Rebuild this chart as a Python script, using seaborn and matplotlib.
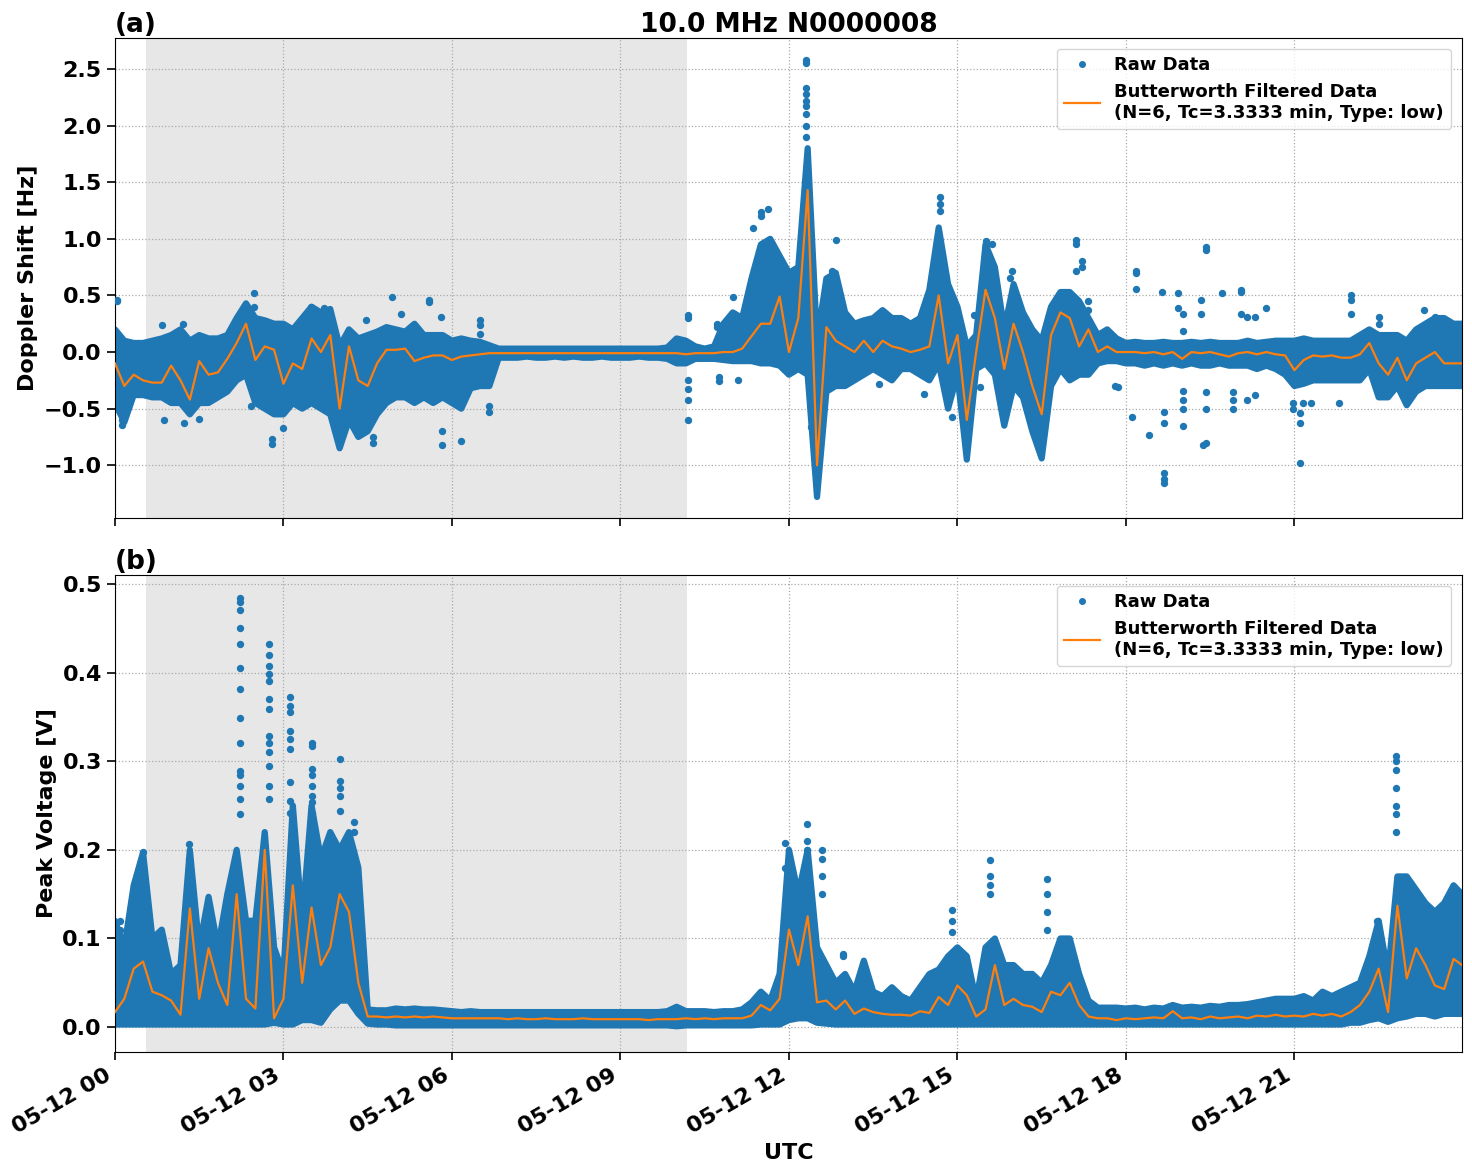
import numpy as np
import pandas as pd
import matplotlib
matplotlib.use("Agg")
import matplotlib.pyplot as plt
import matplotlib.dates as mdates
from matplotlib.lines import Line2D
import seaborn as sns

# ---------------- data ----------------
BASE = "2024-05-12 00:00"
sample_minutes = list(range(0, 1440, 10)) + [1439]

# Panel (a) Doppler shift [Hz]: filtered line, raw-data lower / upper envelope
doppler_filt = [
    -0.10, -0.30, -0.20, -0.25, -0.27, -0.27,
    -0.12, -0.25, -0.42, -0.08, -0.20, -0.18,
    -0.06, 0.08, 0.25, -0.07, 0.05, 0.02,
    -0.28, -0.10, -0.15, 0.12, 0.00, 0.15,
    -0.50, 0.05, -0.25, -0.30, -0.10, 0.02,
    0.02, 0.03, -0.08, -0.05, -0.03, -0.03,
    -0.07, -0.04, -0.03, -0.02, -0.01, -0.01,
    -0.01, -0.01, -0.01, -0.01, -0.01, -0.01,
    -0.01, -0.01, -0.01, -0.01, -0.01, -0.01,
    -0.01, -0.01, -0.01, -0.01, -0.01, -0.01,
    -0.01, -0.02, -0.01, -0.01, -0.01, 0.00,
    0.00, 0.03, 0.14, 0.25, 0.25, 0.49,
    0.00, 0.30, 1.43, -1.00, 0.22, 0.10,
    0.05, 0.00, 0.10, 0.00, 0.10, 0.05,
    0.03, 0.00, 0.02, 0.05, 0.50, -0.10,
    0.15, -0.60, 0.00, 0.55, 0.30, -0.15,
    0.25, 0.00, -0.30, -0.55, 0.15, 0.35,
    0.30, 0.05, 0.20, 0.00, 0.05, 0.00,
    0.00, 0.00, -0.01, 0.00, -0.02, 0.00,
    -0.06, 0.00, -0.01, 0.00, -0.02, -0.04,
    -0.01, 0.00, -0.02, 0.00, -0.02, -0.03,
    -0.16, -0.07, -0.03, -0.04, -0.03, -0.05,
    -0.05, -0.02, 0.08, -0.10, -0.20, -0.05,
    -0.25, -0.10, -0.05, 0.00, -0.10, -0.10, -0.10,
]
doppler_lo = [
    -0.45, -0.62, -0.38, -0.38, -0.40, -0.40,
    -0.45, -0.45, -0.55, -0.45, -0.45, -0.40,
    -0.35, -0.25, -0.20, -0.45, -0.50, -0.55,
    -0.55, -0.45, -0.50, -0.45, -0.50, -0.55,
    -0.85, -0.60, -0.75, -0.70, -0.55, -0.45,
    -0.40, -0.40, -0.45, -0.40, -0.45, -0.40,
    -0.45, -0.50, -0.32, -0.30, -0.30, -0.05,
    -0.05, -0.05, -0.04, -0.05, -0.05, -0.04,
    -0.05, -0.04, -0.05, -0.05, -0.04, -0.05,
    -0.05, -0.05, -0.04, -0.05, -0.05, -0.06,
    -0.10, -0.10, -0.06, -0.06, -0.06, -0.07,
    -0.08, -0.08, -0.08, -0.10, -0.10, -0.12,
    -0.20, -0.15, -0.20, -1.28, -0.35, -0.30,
    -0.30, -0.25, -0.20, -0.15, -0.20, -0.25,
    -0.15, -0.15, -0.20, -0.25, -0.10, -0.50,
    -0.20, -0.95, -0.15, -0.10, -0.20, -0.65,
    -0.30, -0.40, -0.70, -0.94, -0.30, -0.15,
    -0.25, -0.20, -0.20, -0.10, -0.08, -0.08,
    -0.10, -0.10, -0.12, -0.10, -0.12, -0.10,
    -0.12, -0.10, -0.12, -0.12, -0.10, -0.12,
    -0.12, -0.12, -0.15, -0.12, -0.15, -0.20,
    -0.30, -0.28, -0.25, -0.25, -0.25, -0.25,
    -0.25, -0.25, -0.15, -0.40, -0.40, -0.30,
    -0.47, -0.35, -0.30, -0.30, -0.30, -0.30, -0.30,
]
doppler_hi = [
    0.20, 0.10, 0.08, 0.08, 0.10, 0.12,
    0.15, 0.20, 0.10, 0.15, 0.12, 0.12,
    0.15, 0.30, 0.43, 0.30, 0.28, 0.25,
    0.25, 0.20, 0.30, 0.40, 0.35, 0.38,
    0.05, 0.20, 0.12, 0.15, 0.18, 0.22,
    0.20, 0.18, 0.25, 0.15, 0.15, 0.15,
    0.10, 0.12, 0.10, 0.09, 0.06, 0.03,
    0.03, 0.03, 0.03, 0.03, 0.03, 0.03,
    0.03, 0.03, 0.03, 0.03, 0.03, 0.03,
    0.03, 0.03, 0.03, 0.03, 0.03, 0.04,
    0.12, 0.10, 0.05, 0.03, 0.05, 0.25,
    0.35, 0.30, 0.65, 0.95, 1.00, 0.85,
    0.70, 0.75, 1.80, 0.10, 0.65, 0.70,
    0.35, 0.25, 0.28, 0.30, 0.37, 0.30,
    0.30, 0.25, 0.30, 0.55, 1.10, 0.60,
    0.40, 0.05, 0.15, 0.95, 0.75, 0.20,
    0.60, 0.35, 0.20, 0.10, 0.40, 0.53,
    0.53, 0.45, 0.30, 0.15, 0.20, 0.12,
    0.08, 0.09, 0.08, 0.08, 0.09, 0.08,
    0.08, 0.09, 0.08, 0.09, 0.08, 0.08,
    0.08, 0.10, 0.08, 0.09, 0.10, 0.10,
    0.10, 0.12, 0.10, 0.10, 0.10, 0.10,
    0.10, 0.15, 0.20, 0.15, 0.15, 0.15,
    0.10, 0.20, 0.25, 0.30, 0.30, 0.25, 0.25,
]
# isolated raw points (minute of day, value)
doppler_out_min = [
    2, 2, 7, 7, 50, 52, 73, 74, 90, 149, 149, 145, 168, 168, 180, 209, 223,
    268, 276, 276, 296, 306, 335, 335, 349, 349, 348, 370, 390, 390, 390, 400, 400,
    612, 612, 612, 612, 612, 612, 645, 645, 643, 643, 660, 666, 682, 690, 690, 698,
    738, 738, 738, 738, 738, 738, 738, 738, 738, 770, 766, 744, 783, 816, 864,
    881, 881, 881, 894, 918, 924, 930, 930, 937, 956, 958,
    1027, 1027, 1027, 1033, 1033, 1040, 1040, 1068, 1071, 1087, 1091, 1091, 1091,
    1105, 1118, 1121, 1121, 1121, 1121, 1121, 1136, 1136,
    1141, 1141, 1141, 1141, 1141, 1141, 1160, 1160, 1162, 1166, 1166, 1166, 1166, 1166,
    1183, 1194, 1194, 1194, 1203, 1203, 1203, 1209, 1209, 1218, 1218, 1230,
    1258, 1258, 1266, 1266, 1266, 1269, 1278, 1308, 1320, 1320, 1320, 1350, 1350,
    1398, 1410,
]
doppler_out_val = [
    0.46, 0.45, -0.64, -0.60, 0.24, -0.60, 0.25, -0.63, -0.59, 0.52, 0.40, -0.48, -0.81, -0.77, -0.67, 0.40, 0.39,
    0.28, -0.80, -0.75, 0.49, 0.34, 0.46, 0.44, -0.82, -0.70, 0.31, -0.79, 0.28, 0.24, 0.16, -0.53, -0.48,
    0.33, 0.30, -0.25, -0.33, -0.42, -0.60, -0.22, -0.26, 0.25, 0.22, 0.49, -0.25, 1.10, 1.24, 1.20, 1.26,
    2.58, 2.55, 2.33, 2.28, 2.22, 2.17, 2.10, 2.00, 1.90, 0.99, 0.72, -0.66, -0.25, -0.28, -0.37,
    1.37, 1.31, 1.25, -0.57, 0.33, -0.31, 0.98, 0.94, 0.95, 0.65, 0.72,
    0.99, 0.95, 0.72, 0.80, 0.75, 0.45, 0.37, -0.30, -0.31, -0.57, 0.72, 0.70, 0.56,
    -0.73, 0.53, -0.53, -0.63, -1.07, -1.12, -1.16, 0.52, 0.39,
    0.34, 0.19, -0.34, -0.42, -0.50, -0.65, 0.46, 0.34, -0.82, 0.93, 0.90, -0.35, -0.50, -0.80,
    0.52, -0.35, -0.42, -0.50, 0.55, 0.53, 0.34, -0.42, 0.31, -0.38, 0.31, 0.39,
    -0.45, -0.50, -0.54, -0.63, -0.98, -0.45, -0.45, -0.45, 0.50, 0.46, 0.34, 0.31, 0.25,
    0.37, 0.31,
]

# Panel (b) Peak voltage [V]
voltage_filt = [
    0.017, 0.032, 0.066, 0.074, 0.040, 0.036,
    0.030, 0.014, 0.134, 0.032, 0.089, 0.050,
    0.025, 0.150, 0.032, 0.021, 0.200, 0.010,
    0.032, 0.160, 0.050, 0.135, 0.070, 0.090,
    0.150, 0.130, 0.050, 0.012, 0.012, 0.011,
    0.012, 0.011, 0.012, 0.011, 0.012, 0.011,
    0.010, 0.010, 0.010, 0.010, 0.010, 0.010,
    0.009, 0.010, 0.009, 0.009, 0.010, 0.009,
    0.009, 0.009, 0.010, 0.009, 0.009, 0.009,
    0.009, 0.009, 0.009, 0.008, 0.009, 0.009,
    0.009, 0.010, 0.009, 0.010, 0.009, 0.010,
    0.010, 0.010, 0.013, 0.025, 0.019, 0.032,
    0.110, 0.070, 0.125, 0.028, 0.030, 0.020,
    0.030, 0.015, 0.021, 0.017, 0.015, 0.014,
    0.014, 0.013, 0.018, 0.016, 0.034, 0.025,
    0.047, 0.036, 0.012, 0.020, 0.070, 0.025,
    0.032, 0.025, 0.023, 0.017, 0.040, 0.036,
    0.050, 0.025, 0.012, 0.010, 0.010, 0.008,
    0.010, 0.009, 0.010, 0.011, 0.010, 0.018,
    0.010, 0.011, 0.009, 0.012, 0.010, 0.011,
    0.012, 0.010, 0.013, 0.012, 0.014, 0.012,
    0.013, 0.012, 0.015, 0.013, 0.015, 0.012,
    0.017, 0.025, 0.040, 0.066, 0.017, 0.137,
    0.055, 0.089, 0.070, 0.047, 0.043, 0.077, 0.070,
]
voltage_lo = [
    0.003, 0.003, 0.003, 0.003, 0.003, 0.003,
    0.003, 0.003, 0.003, 0.003, 0.003, 0.003,
    0.003, 0.003, 0.003, 0.003, 0.003, 0.005,
    0.003, 0.003, 0.008, 0.008, 0.005, 0.020,
    0.030, 0.030, 0.015, 0.004, 0.003, 0.003,
    0.002, 0.002, 0.002, 0.002, 0.002, 0.002,
    0.002, 0.002, 0.002, 0.002, 0.002, 0.002,
    0.002, 0.002, 0.002, 0.002, 0.002, 0.002,
    0.002, 0.002, 0.002, 0.002, 0.002, 0.002,
    0.002, 0.002, 0.002, 0.002, 0.002, 0.002,
    0.001, 0.002, 0.002, 0.002, 0.002, 0.002,
    0.002, 0.002, 0.002, 0.003, 0.003, 0.003,
    0.008, 0.010, 0.010, 0.005, 0.004, 0.003,
    0.003, 0.003, 0.003, 0.003, 0.003, 0.003,
    0.003, 0.003, 0.003, 0.003, 0.003, 0.003,
    0.003, 0.003, 0.003, 0.003, 0.003, 0.003,
    0.003, 0.003, 0.003, 0.003, 0.003, 0.003,
    0.003, 0.003, 0.003, 0.003, 0.003, 0.003,
    0.003, 0.003, 0.003, 0.003, 0.003, 0.003,
    0.003, 0.003, 0.003, 0.003, 0.003, 0.003,
    0.003, 0.003, 0.003, 0.003, 0.003, 0.003,
    0.003, 0.003, 0.003, 0.003, 0.003, 0.003,
    0.005, 0.005, 0.008, 0.010, 0.006, 0.010,
    0.012, 0.015, 0.015, 0.012, 0.015, 0.015, 0.015,
]
voltage_hi = [
    0.120, 0.090, 0.160, 0.197, 0.100, 0.110,
    0.060, 0.070, 0.200, 0.090, 0.147, 0.090,
    0.150, 0.200, 0.120, 0.120, 0.220, 0.090,
    0.060, 0.250, 0.120, 0.250, 0.190, 0.220,
    0.200, 0.220, 0.180, 0.020, 0.019, 0.019,
    0.021, 0.020, 0.021, 0.020, 0.020, 0.019,
    0.018, 0.017, 0.018, 0.017, 0.017, 0.017,
    0.017, 0.017, 0.017, 0.017, 0.017, 0.017,
    0.017, 0.017, 0.017, 0.017, 0.017, 0.017,
    0.017, 0.017, 0.017, 0.017, 0.017, 0.018,
    0.023, 0.018, 0.018, 0.018, 0.017, 0.018,
    0.018, 0.020, 0.028, 0.040, 0.030, 0.060,
    0.200, 0.150, 0.200, 0.090, 0.070, 0.050,
    0.060, 0.040, 0.075, 0.040, 0.035, 0.045,
    0.035, 0.030, 0.045, 0.060, 0.065, 0.080,
    0.090, 0.080, 0.030, 0.090, 0.100, 0.070,
    0.070, 0.060, 0.060, 0.050, 0.070, 0.100,
    0.100, 0.060, 0.030, 0.022, 0.022, 0.022,
    0.021, 0.022, 0.020, 0.022, 0.021, 0.025,
    0.022, 0.023, 0.022, 0.024, 0.023, 0.025,
    0.025, 0.026, 0.028, 0.030, 0.032, 0.032,
    0.032, 0.035, 0.030, 0.040, 0.035, 0.040,
    0.045, 0.050, 0.080, 0.120, 0.060, 0.170,
    0.170, 0.155, 0.140, 0.130, 0.140, 0.160, 0.150,
]
voltage_out_min = (
    [5] * 3 + [30] * 3 + [79] * 2 + [134] * 14 + [165] * 13 + [187] * 9 + [211] * 8
    + [240] * 5 + [255] * 2 + [716] * 2 + [739] * 3 + [755] * 4 + [778] * 2
    + [894] * 3 + [935] * 4 + [996] * 4 + [1348] * 3 + [1369] * 7
)
voltage_out_val = [
    0.12, 0.11, 0.09,
    0.197, 0.18, 0.167,
    0.207, 0.19,
    0.484, 0.48, 0.471, 0.45, 0.432, 0.405, 0.381, 0.349, 0.321, 0.289, 0.284, 0.272, 0.257, 0.24,
    0.432, 0.42, 0.407, 0.398, 0.39, 0.37, 0.359, 0.328, 0.321, 0.31, 0.295, 0.272, 0.257,
    0.372, 0.362, 0.355, 0.334, 0.325, 0.314, 0.276, 0.255, 0.242,
    0.321, 0.317, 0.291, 0.284, 0.272, 0.261, 0.254, 0.242,
    0.302, 0.278, 0.27, 0.261, 0.244,
    0.231, 0.22,
    0.208, 0.18,
    0.229, 0.21, 0.20,
    0.20, 0.19, 0.17, 0.15,
    0.083, 0.08,
    0.132, 0.12, 0.107,
    0.188, 0.17, 0.16, 0.15,
    0.167, 0.15, 0.13, 0.11,
    0.12, 0.11, 0.104,
    0.306, 0.30, 0.29, 0.27, 0.25, 0.24, 0.22,
]

night_start_min = 33
night_end_min = 611
end_min = 1439

title = "10.0 MHz N0000008"
raw_label = "Raw Data"
filt_label = "Butterworth Filtered Data\n(N=6, Tc=3.3333 min, Type: low)"

# ---------------- plotting ----------------
plt.rcParams["font.family"] = ["DejaVu Sans"]
plt.rcParams["font.weight"] = "bold"
plt.rcParams["axes.labelweight"] = "bold"
plt.rcParams["axes.titleweight"] = "bold"

BLUE = "#1f77b4"
ORANGE = "#ff7f0e"

base = pd.Timestamp(BASE)
def to_time(mins):
    return base + pd.to_timedelta(np.asarray(mins), unit="min")

t = to_time(sample_minutes)

fig = plt.figure(figsize=(14.72, 11.72), dpi=100)
ax1 = fig.add_axes([0.0781, 0.558, 0.9151, 0.4096])
ax2 = fig.add_axes([0.0781, 0.1024, 0.9151, 0.4070], sharex=ax1)

def draw(ax, lo, hi, filt, omin, oval, ylim, yticks):
    ax.axvspan(to_time(night_start_min), to_time(night_end_min), color="#e7e7e7", lw=0, zorder=0)
    ax.fill_between(t, lo, hi, color=BLUE, lw=0, zorder=2)
    for edge in (lo, hi):
        ax.plot(t, edge, color=BLUE, lw=4.5, solid_joinstyle="round", solid_capstyle="round", zorder=2)
    sns.scatterplot(x=to_time(omin), y=oval, ax=ax, color=BLUE, s=28, linewidth=0, zorder=3, legend=False)
    sns.lineplot(x=t, y=filt, ax=ax, color=ORANGE, lw=1.6, zorder=4, legend=False)
    ax.set_ylim(*ylim)
    ax.set_yticks(yticks)
    ax.grid(True, linestyle=":", color="#aaaaaa", lw=0.9)
    ax.set_axisbelow(True)
    for sp in ax.spines.values():
        sp.set_color("black")
    ax.tick_params(labelsize=16, length=6, width=1.2, colors="black")
    handles = [
        Line2D([], [], marker="o", ls="none", color=BLUE, ms=4, label=raw_label),
        Line2D([], [], color=ORANGE, lw=1.6, label=filt_label),
    ]
    ax.legend(handles=handles, loc="upper right", fontsize=13, frameon=True,
              prop={"weight": "bold", "size": 13}, borderaxespad=0.6)

draw(ax1, doppler_lo, doppler_hi, doppler_filt, doppler_out_min, doppler_out_val,
     (-1.466, 2.774), np.arange(-1.0, 2.51, 0.5))
draw(ax2, voltage_lo, voltage_hi, voltage_filt, voltage_out_min, voltage_out_val,
     (-0.028, 0.510), np.arange(0.0, 0.51, 0.1))

ax1.set_ylabel("Doppler Shift [Hz]", fontsize=16, fontweight="bold")
ax2.set_ylabel("Peak Voltage [V]", fontsize=16, fontweight="bold")
ax1.set_xlabel("")
ax2.set_xlabel("UTC", fontsize=16, fontweight="bold")
ax1.set_title(title, fontsize=19, fontweight="bold", pad=3)
ax1.set_title("(a)", loc="left", fontsize=19, fontweight="bold", pad=3)
ax2.set_title("(b)", loc="left", fontsize=19, fontweight="bold", pad=3)

ax1.set_xlim(to_time(0), to_time(end_min))
ax2.xaxis.set_major_locator(mdates.HourLocator(byhour=range(0, 24, 3)))
ax2.xaxis.set_major_formatter(mdates.DateFormatter("%m-%d %H"))
plt.setp(ax1.get_xticklabels(), visible=False)
for lab in ax2.get_xticklabels():
    lab.set_rotation(30)
    lab.set_ha("right")
    lab.set_fontweight("bold")
for ax in (ax1, ax2):
    for lab in ax.get_yticklabels():
        lab.set_fontweight("bold")

fig.savefig("out.png", dpi=100)
